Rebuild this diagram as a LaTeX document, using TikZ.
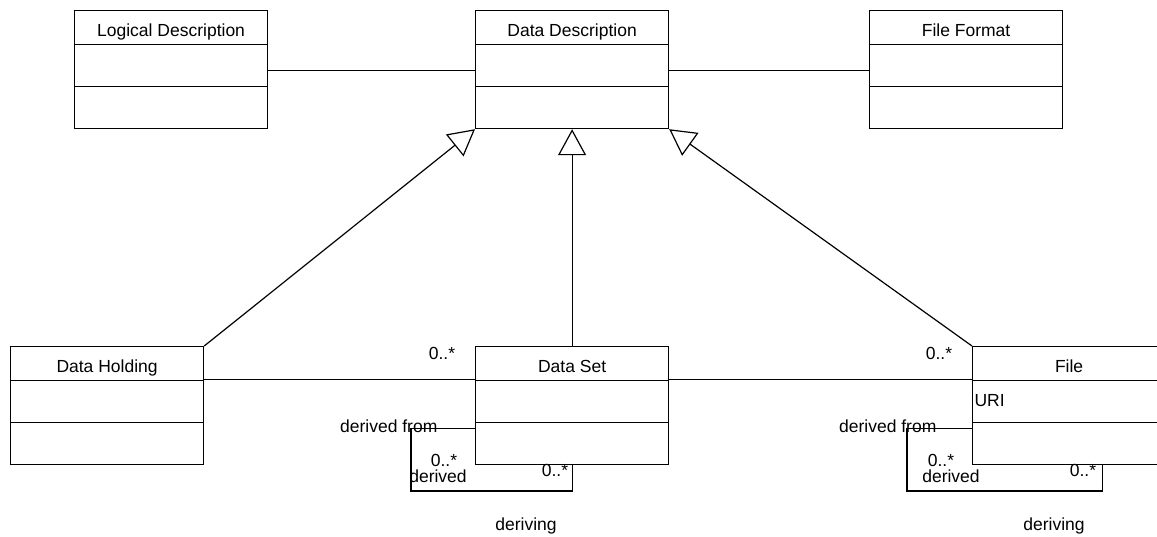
\documentclass[tikz,border=0pt]{standalone}
\usepackage{fontspec}
\setmainfont{Liberation Sans}
\usetikzlibrary{arrows.meta}

\begin{document}
\begin{tikzpicture}[x=1pt,y=-1pt,line width=1.2pt,font=\fontsize{17.5}{20}\selectfont,
    classname/.style={minimum height=34pt,text height=18pt,text depth=0pt},
    compartment/.style={minimum height=42pt}]
      \useasboundingbox (0,0) rectangle (1157,536);
      \begin{scope}[every node/.style={rectangle,draw,inner sep=0pt,minimum width=193pt,anchor=north west}]
        \node[classname] (ld) at (74,10) {Logical Description};
        \node[compartment] (ld-a) at (74,44) {};
        \node[compartment] (ld-o) at (74,86) {};
        \node[classname] (dd) at (475,10) {Data Description};
        \node[compartment] (dd-a) at (475,44) {};
        \node[compartment] (dd-o) at (475,86) {};
        \node[classname] (ff) at (869,10) {File Format};
        \node[compartment] (ff-a) at (869,44) {};
        \node[compartment] (ff-o) at (869,86) {};
        \node[classname] (dh) at (10,346) {Data Holding};
        \node[compartment] (dh-a) at (10,380) {};
        \node[compartment] (dh-o) at (10,422) {};
        \node[classname] (ds) at (475,346) {Data Set};
        \node[compartment] (ds-a) at (475,380) {};
        \node[compartment] (ds-o) at (475,422) {};
        \node[classname] (fl) at (972,346) {File};
        \node[compartment] (fl-a) at (972,380) {};
        \node[compartment] (fl-o) at (972,422) {};
      \end{scope}
      \node[anchor=west,inner sep=0pt] (uri) at (974,401) {URI};
      \begin{scope}[every edge/.style={draw=black,line width=1.2pt}]
        \path ([yshift=-5pt]ld-a.east) edge ([yshift=-5pt]dd-a.west);
        \path ([yshift=-5pt]dd-a.east) edge ([yshift=-5pt]ff-a.west);
        \path ([yshift=2pt]dh.south east) edge ([yshift=2pt]ds.south west);
        \path ([yshift=2pt]ds.south east) edge ([yshift=2pt]fl.south west);
      \end{scope}
      \begin{scope}[every edge/.style={draw=black,line width=1.2pt,-{Triangle[open,length=26pt,width=28pt]}}]
        \path (dh.north east) edge (dd-o.south west);
        \path (ds.north) edge (dd-o.south);
        \path (fl.north west) edge (dd-o.south east);
      \end{scope}
      % self associations
      \coordinate (ds-loop) at (411,491);
      \coordinate (fl-loop) at (907,491);
      \draw ([yshift=-5pt]ds-a.south west) -| (ds-loop) -| (ds-o.south);
      \draw ([yshift=-5pt]fl-a.south west) -| (fl-loop) -| ([xshift=33pt]fl-o.south);
      \begin{scope}[every node/.style={inner sep=0pt}]
        \node (ds-m1) at (442,353) {0..*};
        \node[anchor=east] (ds-from) at (438,426) {derived from};
        \node (ds-m2) at (444,460) {0..*};
        \node (ds-der) at (438,476) {derived};
        \node (ds-m3) at (555,470) {0..*};
        \node (ds-ing) at (526,526) {deriving};
        \node (fl-m1) at (939,353) {0..*};
        \node[anchor=east] (fl-from) at (937,426) {derived from};
        \node (fl-m2) at (941,460) {0..*};
        \node (fl-der) at (951,476) {derived};
        \node (fl-m3) at (1083,470) {0..*};
        \node (fl-ing) at (1054,526) {deriving};
      \end{scope}
    \end{tikzpicture}
\end{document}
